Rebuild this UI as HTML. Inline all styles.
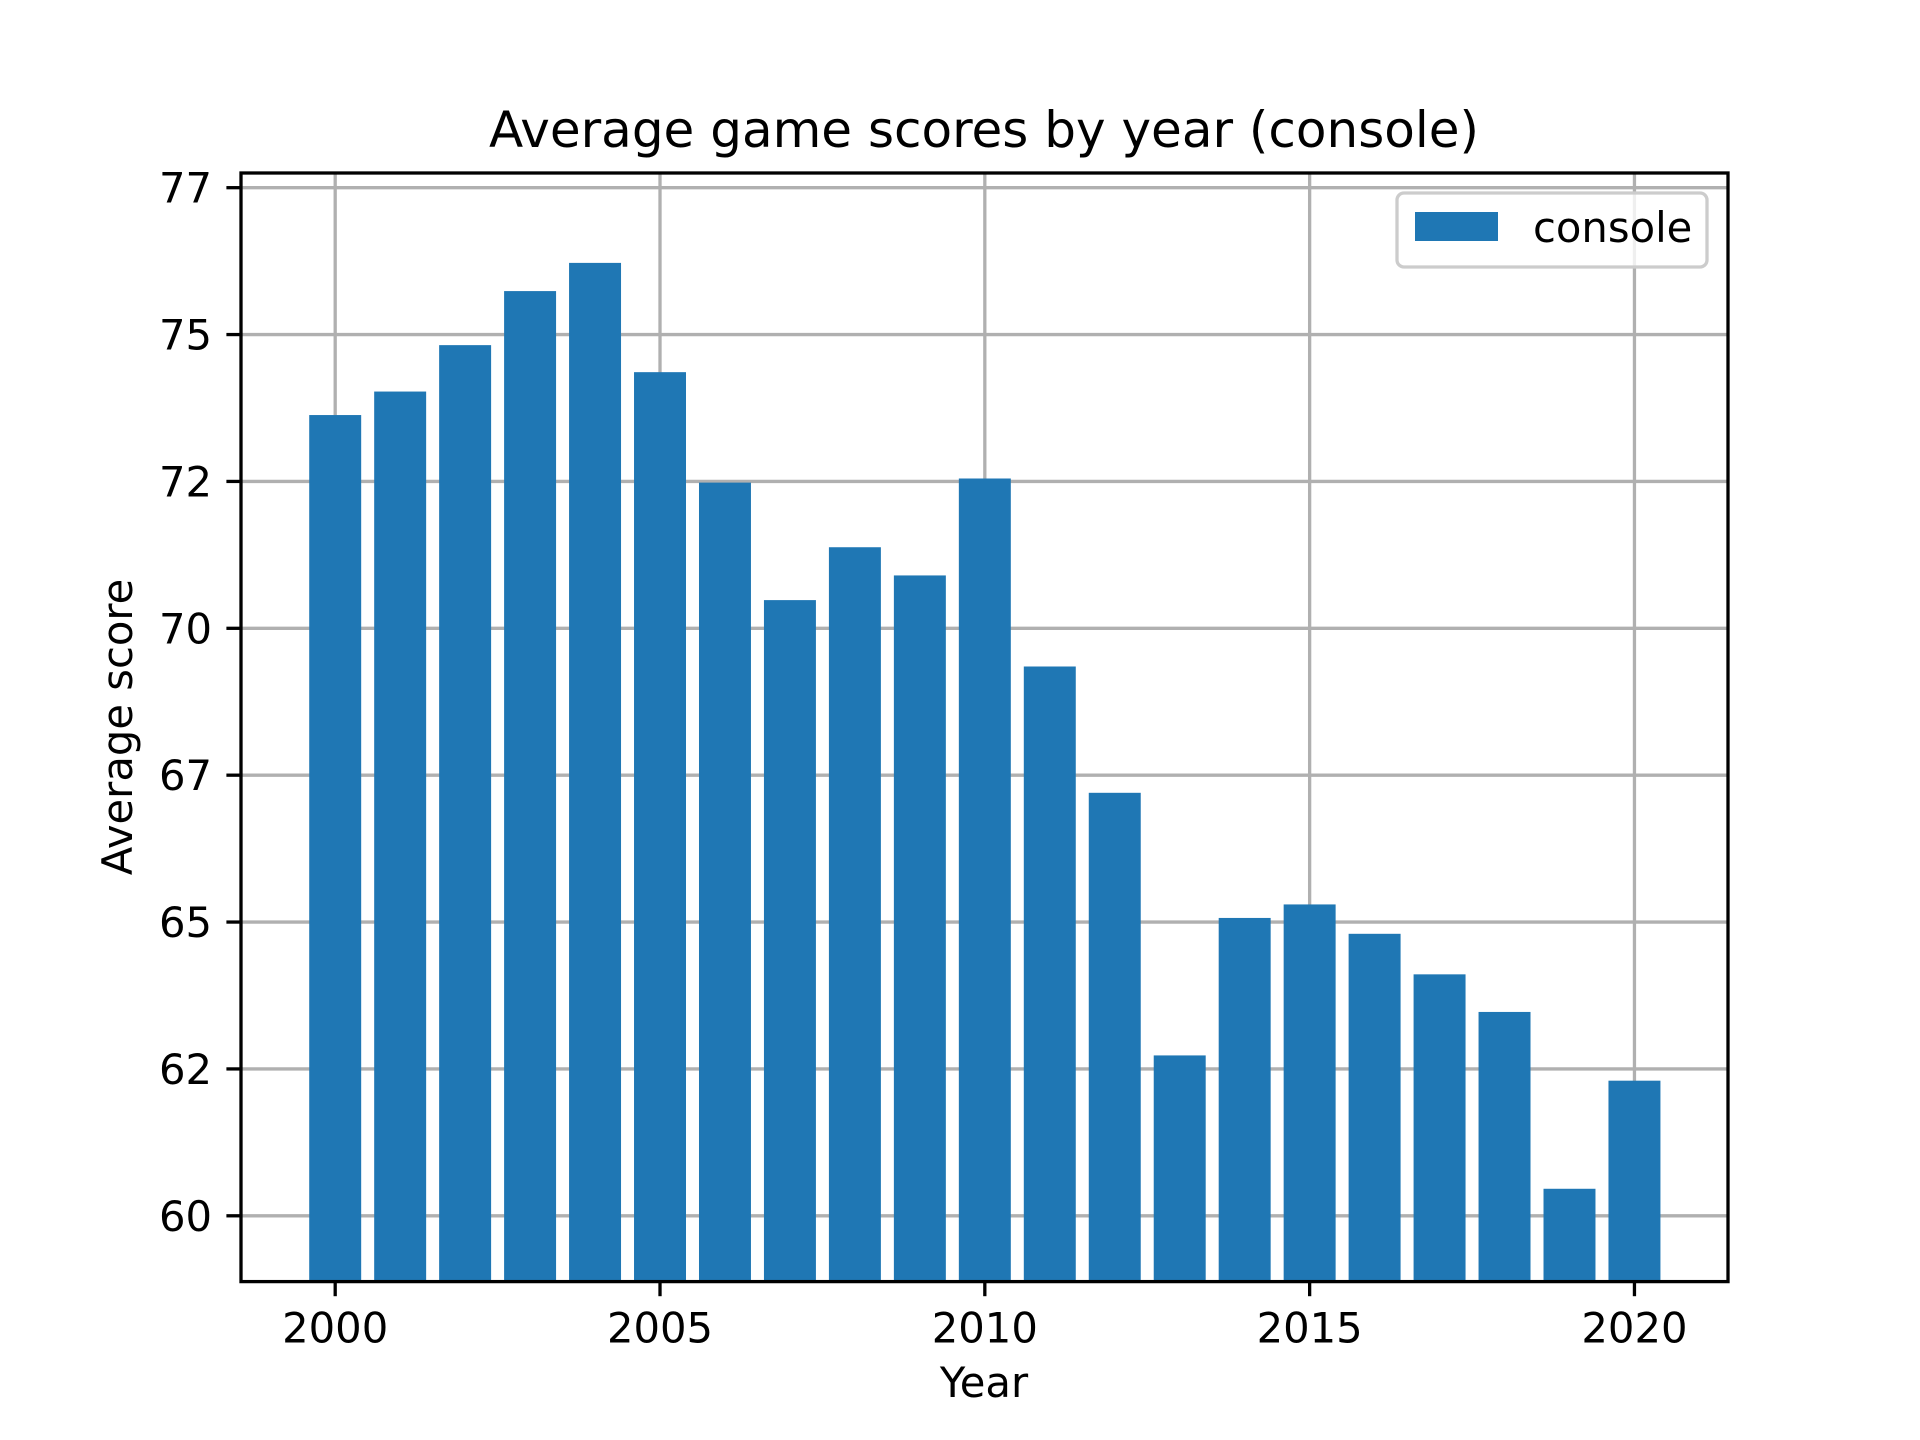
<!DOCTYPE html>
<html><head><meta charset="utf-8"><style>
html,body{margin:0;padding:0;background:#fff;}
svg{display:block;font-family:"DejaVu Sans","Liberation Sans",sans-serif;}
</style></head><body>
<svg id="chart" width="1920" height="1440" viewBox="0 0 1920 1440" xmlns="http://www.w3.org/2000/svg">
<rect width="1920" height="1440" fill="#fff"/>
<text x="984" y="147" font-size="50" text-anchor="middle" fill="#000">Average game scores by year (console)</text>
<text x="1984" y="1397" font-size="41.7" text-anchor="middle" fill="#000" transform="translate(-1000,0)">Year</text>
<text x="0" y="0" font-size="41.7" text-anchor="middle" fill="#000" transform="translate(132,727) rotate(-90)">Average score</text>
<g id="grid"></g>
<g id="bars"></g>
<g id="ticks"></g>
<rect x="241" y="173" width="1487" height="1108.6" fill="none" stroke="#000" stroke-width="3.3"/>
<g>
<rect x="1397" y="193" width="310" height="74" rx="7" fill="#fff" fill-opacity="0.8" stroke="#cccccc" stroke-width="3.3"/>
<rect x="1415" y="212" width="83" height="29" fill="#1f77b4"/>
<text x="1533" y="242" font-size="41.7" fill="#000">console</text>
</g>
</svg>
<script>
const years=[2000,2001,2002,2003,2004,2005,2006,2007,2008,2009,2010,2011,2012,2013,2014,2015,2016,2017,2018,2019,2020];
const scores=[73.63,74.03,74.82,75.74,76.22,74.36,72.48,70.48,71.38,70.90,72.55,69.35,67.20,62.73,65.07,65.30,64.80,64.11,63.47,60.46,62.30];
const yTickValues=[60,62.5,65,67.5,70,72.5,75,77.5];
const yTickLabels=["60","62","65","67","70","72","75","77"];
const xTickValues=[2000,2005,2010,2015,2020];
const xTickLabels=["2000","2005","2010","2015","2020"];
const NS="http://www.w3.org/2000/svg";
const L=241,R=1728,T=173,B=1281.6;
const xMin=1998.55,xMax=2021.44,yMin=58.88,yMax=77.75;
const xs=v=>L+(v-xMin)/(xMax-xMin)*(R-L);
const ys=v=>B-(v-yMin)/(yMax-yMin)*(B-T);
function mk(tag,attrs,parent){const e=document.createElementNS(NS,tag);for(const k in attrs)e.setAttribute(k,attrs[k]);parent.appendChild(e);return e;}
const grid=document.getElementById('grid'),bars=document.getElementById('bars'),ticks=document.getElementById('ticks');
yTickValues.forEach((v,i)=>{
  const g=mk('line',{x1:L,x2:R,y1:ys(v),y2:ys(v),stroke:'#b0b0b0','stroke-width':3.3},grid);
  
  
  const t=mk('line',{x1:L-14.6,x2:L,y1:ys(v),y2:ys(v),stroke:'#000','stroke-width':3.3},ticks);
  
  
  const tx=mk('text',{x:L-29,y:ys(v)+15,'font-size':41.7,'text-anchor':'end',fill:'#000'},ticks);
  tx.textContent=yTickLabels[i];
  
  
});
xTickValues.forEach((v,i)=>{
  const g=mk('line',{x1:xs(v),x2:xs(v),y1:T,y2:B,stroke:'#b0b0b0','stroke-width':3.3},grid);
  
  
  const t=mk('line',{x1:xs(v),x2:xs(v),y1:B,y2:B+14.6,stroke:'#000','stroke-width':3.3},ticks);
  
  
  const tx=mk('text',{x:xs(v),y:B+61,'font-size':41.7,'text-anchor':'middle',fill:'#000'},ticks);
  tx.textContent=xTickLabels[i];
  
  
});
years.forEach((yr,i)=>{
  const x0=xs(yr-0.4),x1=xs(yr+0.4),y0=ys(scores[i]);
  const r=mk('rect',{x:x0,y:y0,width:x1-x0,height:B-y0,fill:'#1f77b4'},bars);
  
  
});
</script>
</body></html>
